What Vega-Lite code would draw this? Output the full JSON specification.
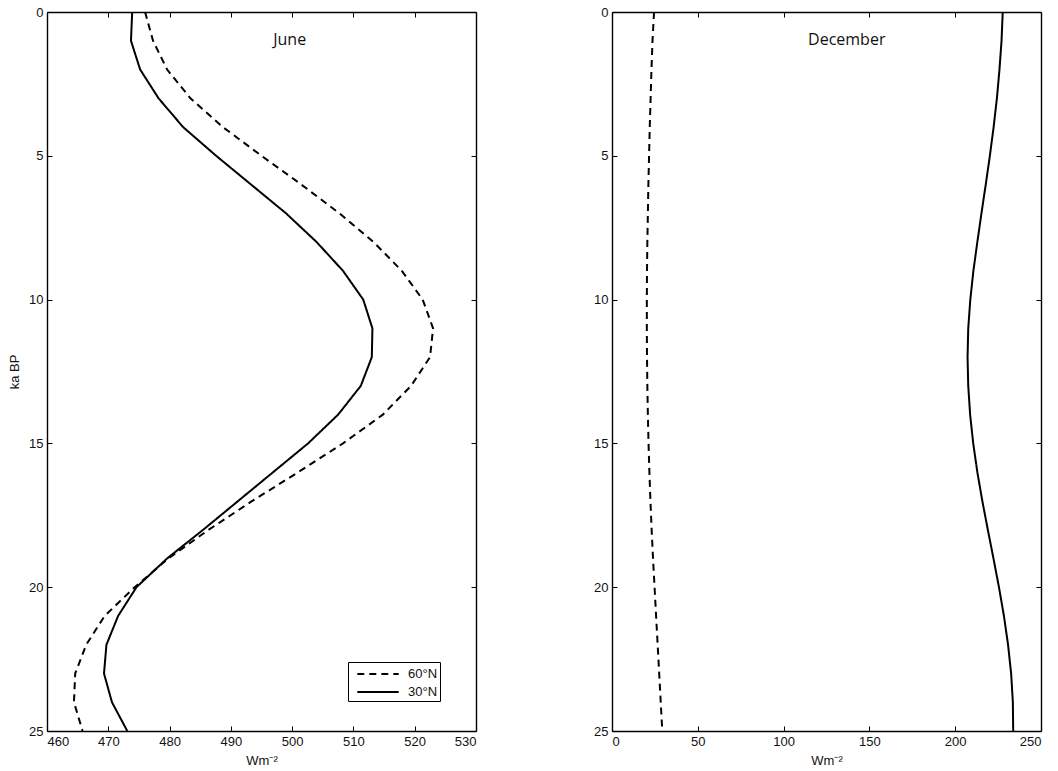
{
  "$schema": "https://vega.github.io/schema/vega-lite/v6.json",
  "padding": {"left": 8, "top": 6, "right": 5, "bottom": 0},
  "bounds": "flush",
  "spacing": 136,
  "background": "white",
  "config": {
    "view": {"stroke": null},
    "axis": {
      "grid": false,
      "domainColor": "#000",
      "domainWidth": 1.4,
      "tickColor": "#000",
      "tickWidth": 1,
      "tickSize": -5,
      "labelPadding": 9,
      "labelFont": "Liberation Sans",
      "labelFontSize": 13,
      "labelColor": "#111",
      "titleFont": "Liberation Sans",
      "titleFontSize": 13,
      "titleFontWeight": "normal",
      "titleColor": "#111"
    }
  },
  "datasets": {
    "june": [
      {"ka": 0, "lat": "30°N", "w": 473.9}, {"ka": 1, "lat": "30°N", "w": 473.7}, {"ka": 2, "lat": "30°N", "w": 475.2},
      {"ka": 3, "lat": "30°N", "w": 478.2}, {"ka": 4, "lat": "30°N", "w": 482.2}, {"ka": 5, "lat": "30°N", "w": 487.6},
      {"ka": 6, "lat": "30°N", "w": 493.3}, {"ka": 7, "lat": "30°N", "w": 499.0}, {"ka": 8, "lat": "30°N", "w": 504.0},
      {"ka": 9, "lat": "30°N", "w": 508.3}, {"ka": 10, "lat": "30°N", "w": 511.6}, {"ka": 11, "lat": "30°N", "w": 513.1},
      {"ka": 12, "lat": "30°N", "w": 513.0}, {"ka": 13, "lat": "30°N", "w": 511.2}, {"ka": 14, "lat": "30°N", "w": 507.5},
      {"ka": 15, "lat": "30°N", "w": 502.6}, {"ka": 16, "lat": "30°N", "w": 496.9}, {"ka": 17, "lat": "30°N", "w": 491.2},
      {"ka": 18, "lat": "30°N", "w": 485.5}, {"ka": 19, "lat": "30°N", "w": 479.6}, {"ka": 20, "lat": "30°N", "w": 474.6},
      {"ka": 21, "lat": "30°N", "w": 471.6}, {"ka": 22, "lat": "30°N", "w": 469.7}, {"ka": 23, "lat": "30°N", "w": 469.3},
      {"ka": 24, "lat": "30°N", "w": 470.6}, {"ka": 25, "lat": "30°N", "w": 473.1},
      {"ka": 0, "lat": "60°N", "w": 476.0}, {"ka": 1, "lat": "60°N", "w": 477.3}, {"ka": 2, "lat": "60°N", "w": 479.6},
      {"ka": 3, "lat": "60°N", "w": 483.4}, {"ka": 4, "lat": "60°N", "w": 488.7}, {"ka": 5, "lat": "60°N", "w": 495.0},
      {"ka": 6, "lat": "60°N", "w": 501.5}, {"ka": 7, "lat": "60°N", "w": 507.7}, {"ka": 8, "lat": "60°N", "w": 513.3},
      {"ka": 9, "lat": "60°N", "w": 517.9}, {"ka": 10, "lat": "60°N", "w": 521.3}, {"ka": 11, "lat": "60°N", "w": 523.0},
      {"ka": 12, "lat": "60°N", "w": 522.5}, {"ka": 13, "lat": "60°N", "w": 519.4}, {"ka": 14, "lat": "60°N", "w": 514.8},
      {"ka": 15, "lat": "60°N", "w": 508.3}, {"ka": 16, "lat": "60°N", "w": 501.0}, {"ka": 17, "lat": "60°N", "w": 493.5},
      {"ka": 18, "lat": "60°N", "w": 486.4}, {"ka": 19, "lat": "60°N", "w": 479.8}, {"ka": 20, "lat": "60°N", "w": 474.3},
      {"ka": 21, "lat": "60°N", "w": 469.4}, {"ka": 22, "lat": "60°N", "w": 466.4}, {"ka": 23, "lat": "60°N", "w": 464.6},
      {"ka": 24, "lat": "60°N", "w": 464.4}, {"ka": 25, "lat": "60°N", "w": 465.8}
    ],
    "dec": [
      {"ka": 0, "lat": "30°N", "w": 227.7}, {"ka": 1, "lat": "30°N", "w": 227.0}, {"ka": 2, "lat": "30°N", "w": 225.8},
      {"ka": 3, "lat": "30°N", "w": 224.3}, {"ka": 4, "lat": "30°N", "w": 222.4}, {"ka": 5, "lat": "30°N", "w": 220.2},
      {"ka": 6, "lat": "30°N", "w": 217.8}, {"ka": 7, "lat": "30°N", "w": 215.3}, {"ka": 8, "lat": "30°N", "w": 212.9},
      {"ka": 9, "lat": "30°N", "w": 210.6}, {"ka": 10, "lat": "30°N", "w": 208.8}, {"ka": 11, "lat": "30°N", "w": 207.6},
      {"ka": 12, "lat": "30°N", "w": 207.2}, {"ka": 13, "lat": "30°N", "w": 207.6}, {"ka": 14, "lat": "30°N", "w": 208.7},
      {"ka": 15, "lat": "30°N", "w": 210.5}, {"ka": 16, "lat": "30°N", "w": 212.9}, {"ka": 17, "lat": "30°N", "w": 215.8},
      {"ka": 18, "lat": "30°N", "w": 219.0}, {"ka": 19, "lat": "30°N", "w": 222.3}, {"ka": 20, "lat": "30°N", "w": 225.5},
      {"ka": 21, "lat": "30°N", "w": 228.4}, {"ka": 22, "lat": "30°N", "w": 230.8}, {"ka": 23, "lat": "30°N", "w": 232.6},
      {"ka": 24, "lat": "30°N", "w": 233.6}, {"ka": 25, "lat": "30°N", "w": 233.8},
      {"ka": 0, "lat": "60°N", "w": 24.5}, {"ka": 1, "lat": "60°N", "w": 23.6}, {"ka": 2, "lat": "60°N", "w": 23.0},
      {"ka": 3, "lat": "60°N", "w": 22.5}, {"ka": 4, "lat": "60°N", "w": 22.0}, {"ka": 5, "lat": "60°N", "w": 21.6},
      {"ka": 6, "lat": "60°N", "w": 21.2}, {"ka": 7, "lat": "60°N", "w": 20.9}, {"ka": 8, "lat": "60°N", "w": 20.6},
      {"ka": 9, "lat": "60°N", "w": 20.4}, {"ka": 10, "lat": "60°N", "w": 20.3}, {"ka": 11, "lat": "60°N", "w": 20.3},
      {"ka": 12, "lat": "60°N", "w": 20.4}, {"ka": 13, "lat": "60°N", "w": 20.6}, {"ka": 14, "lat": "60°N", "w": 20.9},
      {"ka": 15, "lat": "60°N", "w": 21.3}, {"ka": 16, "lat": "60°N", "w": 21.8}, {"ka": 17, "lat": "60°N", "w": 22.4},
      {"ka": 18, "lat": "60°N", "w": 23.1}, {"ka": 19, "lat": "60°N", "w": 23.9}, {"ka": 20, "lat": "60°N", "w": 24.8},
      {"ka": 21, "lat": "60°N", "w": 25.7}, {"ka": 22, "lat": "60°N", "w": 26.6}, {"ka": 23, "lat": "60°N", "w": 27.5},
      {"ka": 24, "lat": "60°N", "w": 28.4}, {"ka": 25, "lat": "60°N", "w": 29.3}
    ]
  },
  "hconcat": [
    {
      "width": 429,
      "height": 719,
      "layer": [
        {
          "data": {"name": "june"},
          "mark": {"type": "line", "color": "#000", "strokeWidth": 2},
          "encoding": {
            "x": {"field": "w", "type": "quantitative", "scale": {"domain": [460, 530], "nice": false, "zero": false},
                  "axis": {"values": [460, 470, 480, 490, 500, 510, 520, 530], "title": "Wm⁻²", "titlePadding": 6}},
            "y": {"field": "ka", "type": "quantitative", "scale": {"domain": [0, 25], "reverse": true, "nice": false, "zero": false},
                  "axis": {"values": [0, 5, 10, 15, 20, 25], "title": "ka BP", "titlePadding": 7}},
            "strokeDash": {"field": "lat", "type": "nominal",
                           "scale": {"domain": ["60°N", "30°N"], "range": [[7, 5], [1, 0]]},
                           "legend": {"orient": "none", "legendX": 301, "legendY": 650, "title": null,
                                      "strokeColor": "#000", "fillColor": "#fff", "padding": 2,
                                      "symbolType": "M-2.3,0H2.3", "symbolSize": 324, "symbolStrokeWidth": 2,
                                      "symbolOffset": 18, "labelOffset": 20,
                                      "symbolStrokeColor": "#000", "labelFont": "Liberation Sans", "labelFontSize": 13,
                                      "labelColor": "#111", "rowPadding": 1}},
            "order": {"field": "ka", "type": "quantitative"}
          }
        },
        {
          "data": {"name": "june"},
          "mark": {"type": "line", "opacity": 0},
          "encoding": {
            "x": {"field": "w", "type": "quantitative", "axis": {"orient": "top", "values": [460, 470, 480, 490, 500, 510, 520, 530], "labels": false, "title": null}},
            "y": {"field": "ka", "type": "quantitative", "axis": {"orient": "right", "values": [0, 5, 10, 15, 20, 25], "labels": false, "title": null}},
            "order": {"field": "ka", "type": "quantitative"}
          }
        },
        {
          "data": {"values": [{"label": "June"}]},
          "mark": {"type": "text", "font": "Open Sans", "fontSize": 16, "color": "#111", "baseline": "middle", "align": "center"},
          "encoding": {
            "text": {"field": "label", "type": "nominal"},
            "x": {"datum": 499.6, "type": "quantitative", "axis": null},
            "y": {"datum": 0.97, "type": "quantitative", "axis": null}
          }
        }
      ],
      "resolve": {"axis": {"x": "independent", "y": "independent"}}
    },
    {
      "width": 429,
      "height": 719,
      "layer": [
        {
          "data": {"name": "dec"},
          "mark": {"type": "line", "color": "#000", "strokeWidth": 2},
          "encoding": {
            "x": {"field": "w", "type": "quantitative", "scale": {"domain": [0, 250], "nice": false},
                  "axis": {"values": [0, 50, 100, 150, 200, 250], "title": "Wm⁻²", "titlePadding": 6}},
            "y": {"field": "ka", "type": "quantitative", "scale": {"domain": [0, 25], "reverse": true, "nice": false, "zero": false},
                  "axis": {"values": [0, 5, 10, 15, 20, 25], "title": null}},
            "strokeDash": {"field": "lat", "type": "nominal",
                           "scale": {"domain": ["60°N", "30°N"], "range": [[7, 5], [1, 0]]},
                           "legend": null},
            "order": {"field": "ka", "type": "quantitative"}
          }
        },
        {
          "data": {"name": "dec"},
          "mark": {"type": "line", "opacity": 0},
          "encoding": {
            "x": {"field": "w", "type": "quantitative", "axis": {"orient": "top", "values": [0, 50, 100, 150, 200, 250], "labels": false, "title": null}},
            "y": {"field": "ka", "type": "quantitative", "axis": {"orient": "right", "values": [0, 5, 10, 15, 20, 25], "labels": false, "title": null}},
            "order": {"field": "ka", "type": "quantitative"}
          }
        },
        {
          "data": {"values": [{"label": "December"}]},
          "mark": {"type": "text", "font": "Open Sans", "fontSize": 16, "color": "#111", "baseline": "middle", "align": "center"},
          "encoding": {
            "text": {"field": "label", "type": "nominal"},
            "x": {"datum": 136.8, "type": "quantitative", "axis": null},
            "y": {"datum": 0.97, "type": "quantitative", "axis": null}
          }
        }
      ],
      "resolve": {"axis": {"x": "independent", "y": "independent"}}
    }
  ],
  "resolve": {"scale": {"strokeDash": "independent"}, "legend": {"strokeDash": "independent"}}
}
